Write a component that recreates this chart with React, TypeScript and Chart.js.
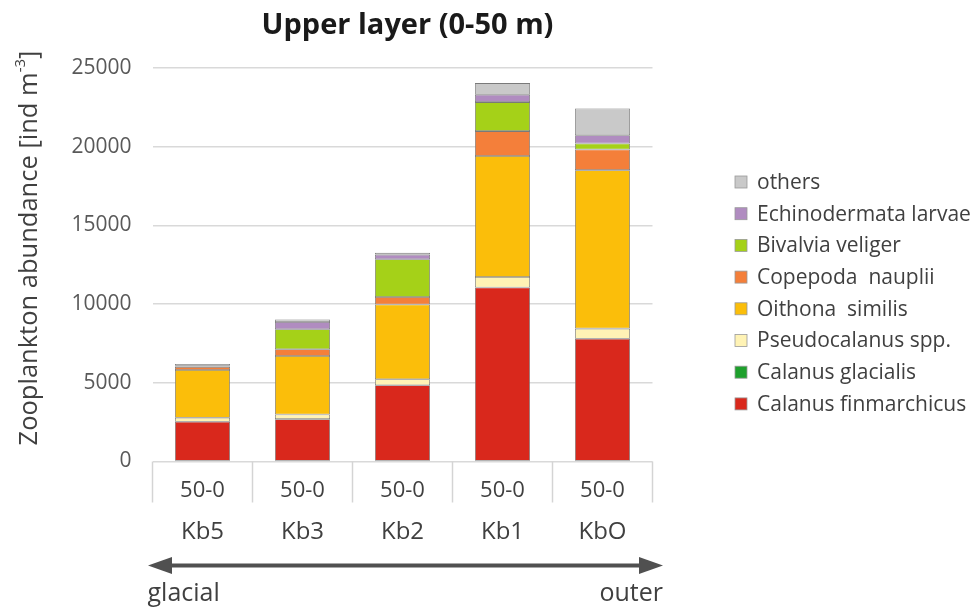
import React, { useEffect, useRef } from "react";
import { Chart, registerables } from "chart.js";

Chart.register(...registerables);

const stations = ["Kb5", "Kb3", "Kb2", "Kb1", "KbO"];
const depthLabels = ["50-0", "50-0", "50-0", "50-0", "50-0"];
const yTicks = [0, 5000, 10000, 15000, 20000, 25000];

const calanusFinmarchicus = [2527, 2690, 4845, 11050, 7800];
const calanusGlacialis = [0, 0, 0, 0, 0];
const pseudocalanus = [254, 295, 380, 670, 645];
const oithonaSimilis = [3030, 3720, 4745, 7685, 10065];
const copepodaNauplii = [200, 425, 480, 1585, 1315];
const bivalviaVeliger = [30, 1270, 2395, 1845, 380];
const echinodermataLarvae = [40, 465, 300, 465, 525];
const others = [120, 155, 125, 740, 1695];

const seriesNames = [
  "Calanus finmarchicus",
  "Calanus glacialis",
  "Pseudocalanus spp.",
  "Oithona  similis",
  "Copepoda  nauplii",
  "Bivalvia veliger",
  "Echinodermata larvae",
  "others",
];
const seriesValues = [
  calanusFinmarchicus,
  calanusGlacialis,
  pseudocalanus,
  oithonaSimilis,
  copepodaNauplii,
  bivalviaVeliger,
  echinodermataLarvae,
  others,
];
const seriesColors = [
  "#d9281c",
  "#1ea02c",
  "#fff3b5",
  "#fbbe0a",
  "#f47f3a",
  "#a5d118",
  "#b08cc0",
  "#c9c9c9",
];

const chartTitle = "Upper layer (0-50 m)";
const yTitleMain = "Zooplankton abundance [ind m";
const yTitleSup = "-3";
const yTitleEnd = "]";
const leftEnd = "glacial";
const rightEnd = "outer";

const FONT = "'Open Sans', 'DejaVu Sans', sans-serif";
const TEXT = "#404040";

const decorPlugin = {
  id: "decor",
  afterDraw(chart: any) {
    const ctx = chart.ctx;
    const area = chart.chartArea;
    const x = chart.scales.x;
    ctx.save();

    // title
    ctx.fillStyle = "#1a1a1a";
    ctx.font = `bold 29px ${FONT}`;
    ctx.textAlign = "center";
    ctx.textBaseline = "alphabetic";
    ctx.fillText(chartTitle, 407.5, 34);

    // y title with superscript
    ctx.save();
    ctx.translate(29, 248);
    ctx.rotate(-Math.PI / 2);
    ctx.fillStyle = TEXT;
    const mainFont = `25.5px ${FONT}`;
    const supFont = `15px ${FONT}`;
    ctx.font = mainFont;
    const w1 = ctx.measureText(yTitleMain).width;
    const w3 = ctx.measureText(yTitleEnd).width;
    ctx.font = supFont;
    const w2 = ctx.measureText(yTitleSup).width;
    const total = w1 + w2 + w3;
    let cx = -total / 2;
    ctx.textAlign = "left";
    ctx.textBaseline = "alphabetic";
    const base = 8;
    ctx.font = mainFont;
    ctx.fillText(yTitleMain, cx, base);
    cx += w1;
    ctx.font = supFont;
    ctx.fillText(yTitleSup, cx, base - 12);
    cx += w2;
    ctx.font = mainFont;
    ctx.fillText(yTitleEnd, cx, base);
    ctx.restore();

    // category boxes
    const n = stations.length;
    const centers = stations.map((_, i) => x.getPixelForValue(i));
    const bounds: number[] = [area.left];
    for (let i = 1; i < n; i++) bounds.push((centers[i - 1] + centers[i]) / 2);
    bounds.push(area.right);
    ctx.strokeStyle = "#d4d4d4";
    ctx.lineWidth = 1.5;
    bounds.forEach((bx) => {
      ctx.beginPath();
      ctx.moveTo(bx, area.bottom);
      ctx.lineTo(bx, area.bottom + 41);
      ctx.stroke();
    });

    ctx.fillStyle = TEXT;
    ctx.textAlign = "center";
    ctx.textBaseline = "alphabetic";
    ctx.font = `22px ${FONT}`;
    depthLabels.forEach((t, i) => ctx.fillText(t, centers[i], area.bottom + 35));
    ctx.font = `24px ${FONT}`;
    stations.forEach((t, i) => ctx.fillText(t, centers[i], area.bottom + 77));

    // double arrow
    const ay = area.bottom + 104;
    const lx = area.left - 4.5;
    const rx = area.right + 10.5;
    const hl = 24;
    const hh = 8.5;
    ctx.strokeStyle = "#505050";
    ctx.fillStyle = "#505050";
    ctx.lineWidth = 4;
    ctx.beginPath();
    ctx.moveTo(lx + hl - 2, ay);
    ctx.lineTo(rx - hl + 2, ay);
    ctx.stroke();
    ctx.beginPath();
    ctx.moveTo(lx, ay);
    ctx.lineTo(lx + hl, ay - hh);
    ctx.lineTo(lx + hl, ay + hh);
    ctx.closePath();
    ctx.fill();
    ctx.beginPath();
    ctx.moveTo(rx, ay);
    ctx.lineTo(rx - hl, ay - hh);
    ctx.lineTo(rx - hl, ay + hh);
    ctx.closePath();
    ctx.fill();

    ctx.fillStyle = TEXT;
    ctx.font = `25px ${FONT}`;
    ctx.textAlign = "left";
    ctx.fillText(leftEnd, area.left - 5, area.bottom + 139);
    ctx.textAlign = "right";
    ctx.fillText(rightEnd, area.right + 10.5, area.bottom + 139);

    // legend (reverse order)
    ctx.font = `21px ${FONT}`;
    ctx.textAlign = "left";
    ctx.textBaseline = "middle";
    const order = seriesNames.map((_, i) => seriesNames.length - 1 - i);
    order.forEach((si, k) => {
      const cy = 182 + k * 31.7;
      ctx.fillStyle = seriesColors[si];
      ctx.fillRect(735, cy - 6, 12, 12);
      ctx.strokeStyle = "#999999";
      ctx.lineWidth = 0.8;
      ctx.strokeRect(735, cy - 6, 12, 12);
      ctx.fillStyle = TEXT;
      ctx.fillText(seriesNames[si], 757, cy + 1);
    });

    ctx.restore();
  },
};

const bgPlugin = {
  id: "bg",
  beforeDraw(chart: any) {
    const ctx = chart.ctx;
    ctx.save();
    ctx.fillStyle = "#ffffff";
    ctx.fillRect(0, 0, chart.width, chart.height);
    ctx.restore();
  },
};

export default function App() {
  const ref = useRef<HTMLCanvasElement | null>(null);
  useEffect(() => {
    if (!ref.current) return;
    const chart = new Chart(ref.current, {
      type: "bar",
      data: {
        labels: stations,
        datasets: seriesNames.map((name, i) => ({
          label: name,
          data: seriesValues[i],
          backgroundColor: seriesColors[i],
          borderColor: "#7a7a7a",
          borderWidth: 0.8,
          borderSkipped: false,
          barPercentage: 0.55,
          categoryPercentage: 1,
        })),
      },
      options: {
        responsive: false,
        animation: false,
        devicePixelRatio: 1,
        layout: { padding: { top: 68, right: 326.5, bottom: 150.5, left: 0 } },
        plugins: {
          legend: { display: false },
          title: { display: false },
          tooltip: { enabled: false },
        },
        scales: {
          x: {
            stacked: true,
            display: false,
          },
          y: {
            stacked: true,
            min: 0,
            max: 25000,
            afterFit: (s: any) => {
              s.width = 152.5;
            },
            afterBuildTicks: (s: any) => {
              s.ticks = yTicks.map((v) => ({ value: v }));
            },
            ticks: {
              padding: 21,
              color: "#595959",
              font: { family: FONT, size: 21 },
              callback: (v: any) => String(v),
            },
            grid: { color: "#d9d9d9", lineWidth: 1.5, drawTicks: false },
            border: { display: false },
          },
        },
      },
      plugins: [bgPlugin, decorPlugin],
    });
    return () => chart.destroy();
  }, []);
  return (
    <div style={{ position: "fixed", left: 0, top: 0, width: 979, height: 612, background: "#fff" }}>
      <canvas ref={ref} width={979} height={612} style={{ display: "block" }} />
    </div>
  );
}
